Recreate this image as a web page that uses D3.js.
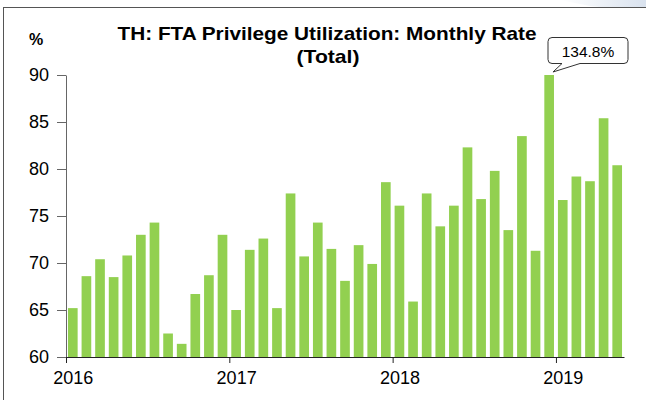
<!DOCTYPE html>
<html><head><meta charset="utf-8">
<script src="https://cdn.jsdelivr.net/npm/d3@7"></script>
<style>
html,body{margin:0;padding:0;background:#fff;}
svg{display:block;font-family:"Liberation Sans",Arial,sans-serif;}
</style></head>
<body>
<svg id="chart" width="646" height="400"></svg>
<script>
const months = [];
const startYear = 2016;
for (let i = 0; i < 41; i++) months.push(`${startYear + Math.floor(i / 12)}-${String(i % 12 + 1).padStart(2, "0")}`);

const values = [
  65.2, 68.6, 70.4, 68.5, 70.8, 73.0, 74.3, 62.5, 61.4, 66.7, 68.7, 73.0,
  65.0, 71.4, 72.6, 65.2, 77.4, 70.7, 74.3, 71.5, 68.1, 71.9, 69.9, 78.6,
  76.1, 65.9, 77.4, 73.9, 76.1, 82.3, 76.8, 79.8, 73.5, 83.5, 71.3, 134.8,
  76.7, 79.2, 78.7, 85.4, 80.4
];
const yTicks = [60, 65, 70, 75, 80, 85, 90];
const yearLabels = ["2016", "2017", "2018", "2019"];
const title1 = "TH: FTA Privilege Utilization: Monthly Rate";
const title2 = "(Total)";
const unitLabel = "%";
const callout = "134.8%";

const svg = d3.select("#chart");

// top-right decoration
const defs = svg.append("defs");
const grad = defs.append("linearGradient").attr("id", "deco").attr("x1", "0").attr("x2", "1");
grad.append("stop").attr("offset", "0").attr("stop-color", "#ffffff");
grad.append("stop").attr("offset", "1").attr("stop-color", "#d9e2ee");
svg.append("path").attr("d", "M560,0 L646,0 L646,20 C630,12 610,8 590,6 Z").attr("fill", "url(#deco)");

// frame
svg.append("rect").attr("x", 3.5).attr("y", 7.5).attr("width", 700).attr("height", 500)
  .attr("fill", "#fff").attr("stroke", "#555").attr("stroke-width", 1);

const x0 = 66, x1 = 624, yTop = 75, yBot = 357;
const x = d3.scaleBand().domain(months).range([x0, x1]).paddingInner(0.29).paddingOuter(0.145);
const xi = d3.scaleLinear().domain([0, months.length]).range([x0, x1]);
const y = d3.scaleLinear().domain([60, 90]).range([yBot, yTop]);

// bars
svg.append("g").selectAll("rect").data(values).join("rect")
  .attr("x", (d, i) => x(months[i]))
  .attr("width", x.bandwidth())
  .attr("y", d => y(Math.min(d, 90)))
  .attr("height", d => yBot - y(Math.min(d, 90)))
  .attr("fill", "#92D050");

// y axis
const gy = svg.append("g").attr("transform", `translate(${x0},0)`)
  .call(d3.axisLeft(y).tickValues(yTicks).tickSize(9).tickSizeOuter(0).tickPadding(8));
gy.select(".domain").attr("stroke", "#666");
gy.selectAll(".tick line").attr("stroke", "#666");
gy.selectAll("text").attr("font-size", 18).attr("fill", "#000").attr("font-family", "Liberation Sans, Arial");

// x axis
const gx = svg.append("g").attr("transform", `translate(0,${yBot})`)
  .call(d3.axisBottom(xi).tickValues([0, 12, 24, 36]).tickSize(6).tickSizeOuter(0).tickPadding(8)
    .tickFormat((d, i) => yearLabels[i]));
gx.select(".domain").attr("stroke", "#222");
gx.selectAll(".tick line").attr("stroke", "#222");
gx.selectAll("text").attr("font-size", 18).attr("fill", "#000").attr("font-family", "Liberation Sans, Arial")
  .attr("dx", x.step() / 2);

// titles
svg.append("text").attr("x", 327).attr("y", 40).attr("text-anchor", "middle")
  .attr("font-size", 19).attr("font-weight", "bold")
  .attr("textLength", 419).attr("lengthAdjust", "spacingAndGlyphs").text(title1);
svg.append("text").attr("x", 328).attr("y", 63).attr("text-anchor", "middle")
  .attr("font-size", 19).attr("font-weight", "bold")
  .attr("textLength", 63).attr("lengthAdjust", "spacingAndGlyphs").text(title2);
svg.append("text").attr("x", 29).attr("y", 45).attr("font-size", 16).attr("font-weight", "bold").text(unitLabel);

// callout
const peakIdx = values.indexOf(d3.max(values));
const tipX = x(months[peakIdx]) + x.bandwidth() - 1, tipY = y(90) - 3;
const bx = 548, by = 37.5, bw = 80, bh = 26, r = 4;
const cp = d3.path();
cp.moveTo(bx + r, by);
cp.lineTo(bx + bw - r, by); cp.quadraticCurveTo(bx + bw, by, bx + bw, by + r);
cp.lineTo(bx + bw, by + bh - r); cp.quadraticCurveTo(bx + bw, by + bh, bx + bw - r, by + bh);
cp.lineTo(bx + 32, by + bh);
cp.lineTo(tipX, tipY);
cp.lineTo(bx + 14, by + bh);
cp.lineTo(bx + r, by + bh); cp.quadraticCurveTo(bx, by + bh, bx, by + bh - r);
cp.lineTo(bx, by + r); cp.quadraticCurveTo(bx, by, bx + r, by);
cp.closePath();
svg.append("path").attr("d", cp.toString()).attr("fill", "#fff").attr("stroke", "#333").attr("stroke-width", 1);
svg.append("text").attr("x", bx + bw / 2).attr("y", by + 19).attr("text-anchor", "middle")
  .attr("font-size", 15.5).attr("fill", "#000").text(callout);
</script>
</body></html>
